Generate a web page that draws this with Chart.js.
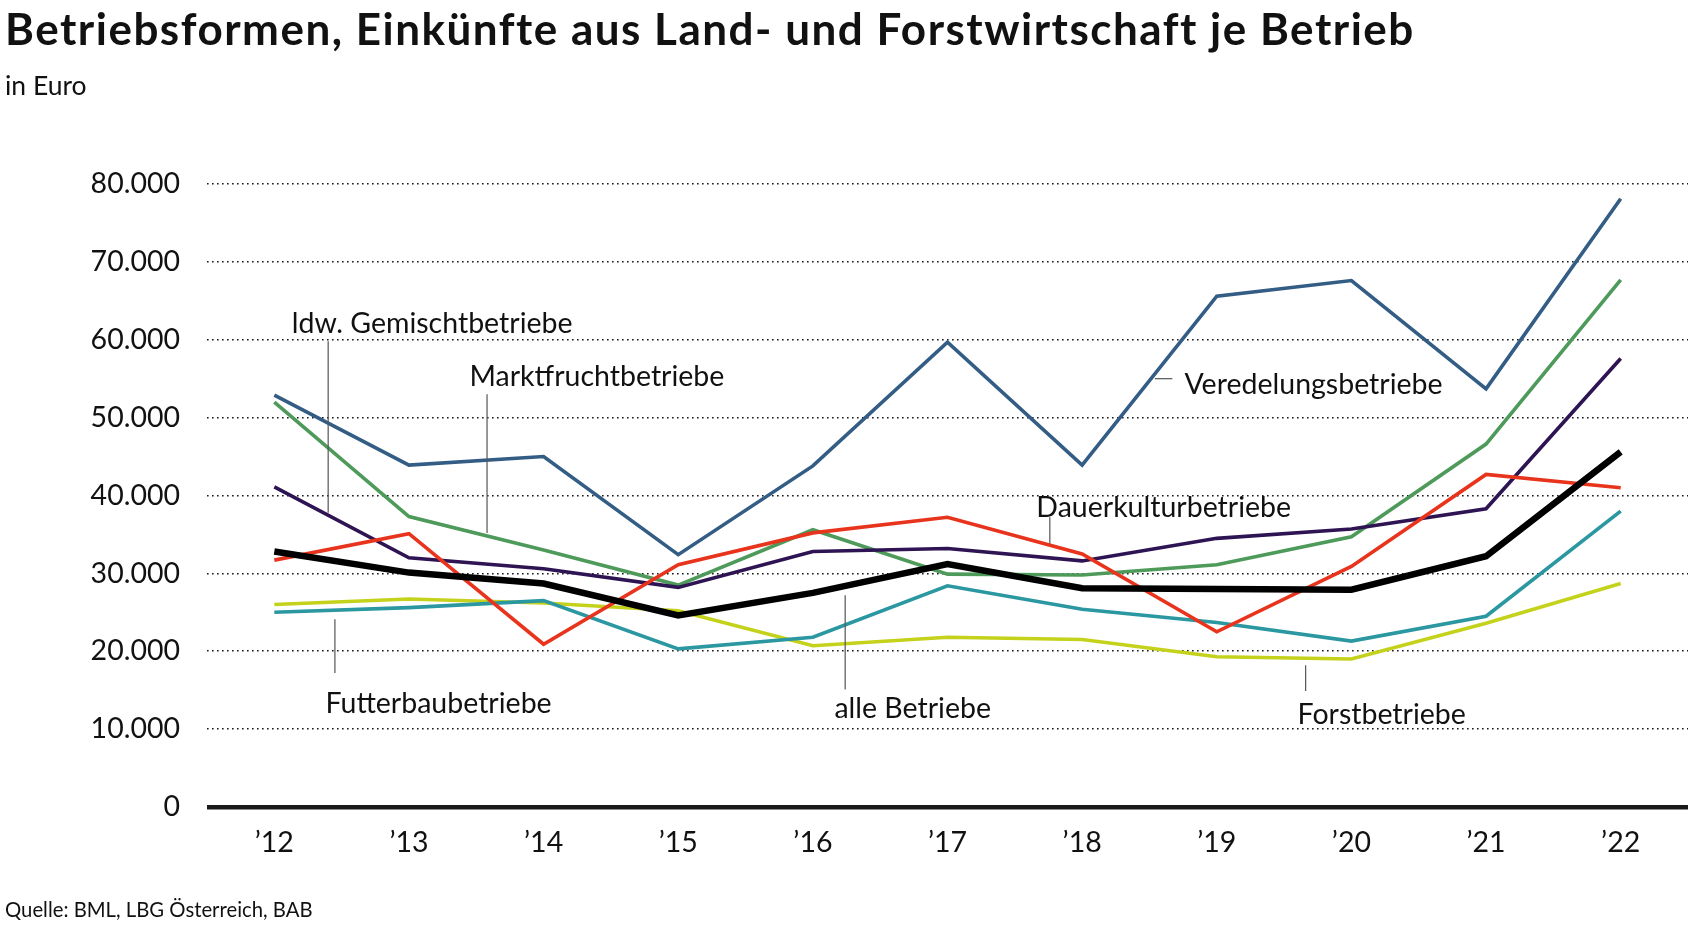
<!DOCTYPE html>
<html lang="de">
<head>
<meta charset="utf-8">
<title>Betriebsformen, Einkünfte aus Land- und Forstwirtschaft je Betrieb</title>
<script src="https://cdn.jsdelivr.net/npm/chart.js@4.4.1/dist/chart.umd.min.js"></script>
<style>
    html, body {
        margin: 0;
        padding: 0;
        background: #ffffff;
        width: 1688px;
        height: 925px;
        overflow: hidden;
        font-family: Lato, "Open Sans", sans-serif;
        color: #111111;
    }
    #title {
        position: absolute;
        left: 5px;
        top: 2px;
        font-size: 44px;
        font-weight: 700;
        letter-spacing: 1.5px;
        line-height: 52px;
        white-space: nowrap;
    }
    #subtitle {
        position: absolute;
        left: 5px;
        top: 69px;
        font-size: 26.5px;
        line-height: 32px;
    }
    #source {
        position: absolute;
        left: 5px;
        top: 897px;
        font-size: 20.3px;
        line-height: 24px;
    }
    #chartBox {
        position: absolute;
        left: 0;
        top: 0;
        width: 1688px;
        height: 925px;
    }
</style>
</head>
<body>
<div id="chartBox"><canvas id="einkuenfteChart"></canvas></div>
<div id="title">Betriebsformen, Einkünfte aus Land- und Forstwirtschaft je Betrieb</div>
<div id="subtitle">in Euro</div>
<div id="source">Quelle: BML, LBG Österreich, BAB</div>

<script>
// Chart data (Euro je Betrieb)
const years = ['’12', '’13', '’14', '’15', '’16', '’17', '’18', '’19', '’20', '’21', '’22'];
const yTickLabels = ['0', '10.000', '20.000', '30.000', '40.000', '50.000', '60.000', '70.000', '80.000'];

const alleBetriebe = [32800, 30100, 28700, 24600, 27500, 31200, 28100, 28000, 27900, 32200, 45600];
const veredelungsbetriebe = [52900, 43900, 45000, 32400, 43800, 59700, 43900, 65600, 67600, 53700, 78100];
const marktfruchtbetriebe = [52000, 37300, 33000, 28500, 35600, 29900, 29800, 31100, 34700, 46600, 67700];
const gemischtbetriebe = [41100, 32000, 30600, 28200, 32800, 33200, 31600, 34500, 35700, 38300, 57600];
const dauerkulturbetriebe = [31700, 35100, 20900, 31100, 35200, 37200, 32500, 22500, 30900, 42700, 41000];
const futterbaubetriebe = [25000, 25600, 26500, 20300, 21800, 28400, 25400, 23700, 21300, 24500, 38000];
const forstbetriebe = [26000, 26700, 26200, 25200, 20700, 21800, 21500, 19300, 19000, 23600, 28700];

// Direct labels: text anchor and leader line in data space (x = category index, y = Euro)
const seriesLabels = [
    { text: 'ldw. Gemischtbetriebe', x: 0.13, y: 62100, line: [[0.40, 59800], [0.40, 37800]] },
    { text: 'Marktfruchtbetriebe', x: 1.45, y: 55200, line: [[1.58, 53000], [1.58, 35200]] },
    { text: 'Veredelungsbetriebe', x: 6.76, y: 54200, line: [[6.54, 55000], [6.67, 55000]] },
    { text: 'Dauerkulturbetriebe', x: 5.66, y: 38400, line: [[5.76, 37200], [5.76, 33800]] },
    { text: 'Futterbaubetriebe', x: 0.38, y: 13300, line: [[0.45, 24100], [0.45, 17200]] },
    { text: 'alle Betriebe', x: 4.16, y: 12600, line: [[4.24, 27200], [4.24, 15100]] },
    { text: 'Forstbetriebe', x: 7.60, y: 11800, line: [[7.66, 18200], [7.66, 14900]] }
];

const FONT = 'Lato, "Open Sans", sans-serif';

// Line dataset helper
function makeSeries(label, data, color, width) {
    return {
        label: label,
        data: data,
        borderColor: color,
        backgroundColor: color,
        borderWidth: width,
        pointRadius: 0,
        pointHoverRadius: 0,
        tension: 0,
        fill: false,
        borderJoinStyle: 'miter',
        borderCapStyle: 'butt'
    };
}

// Plugin: draws the direct series labels with their thin leader lines
const seriesLabelPlugin = {
    id: 'seriesLabels',
    afterDatasetsDraw(chart) {
        const ctx = chart.ctx;
        const xScale = chart.scales.x;
        const yScale = chart.scales.y;

        ctx.save();
        ctx.strokeStyle = '#555555';
        ctx.lineWidth = 1.2;
        seriesLabels.forEach(item => {
            ctx.beginPath();
            ctx.moveTo(xScale.getPixelForValue(item.line[0][0]), yScale.getPixelForValue(item.line[0][1]));
            ctx.lineTo(xScale.getPixelForValue(item.line[1][0]), yScale.getPixelForValue(item.line[1][1]));
            ctx.stroke();
        });

        ctx.fillStyle = '#111111';
        ctx.font = '28.5px ' + FONT;
        ctx.textAlign = 'left';
        ctx.textBaseline = 'middle';
        seriesLabels.forEach(item => {
            ctx.fillText(item.text, xScale.getPixelForValue(item.x), yScale.getPixelForValue(item.y));
        });
        ctx.restore();
    }
};

function renderChart() {
    const ctx = document.getElementById('einkuenfteChart');

    new Chart(ctx, {
        type: 'line',
        data: {
            labels: years,
            // first dataset is drawn on top
            datasets: [
                makeSeries('alle Betriebe', alleBetriebe, '#000000', 6.5),
                makeSeries('Veredelungsbetriebe', veredelungsbetriebe, '#335d84', 3.6),
                makeSeries('Dauerkulturbetriebe', dauerkulturbetriebe, '#e8341c', 3.6),
                makeSeries('Futterbaubetriebe', futterbaubetriebe, '#2a97a1', 3.6),
                makeSeries('ldw. Gemischtbetriebe', gemischtbetriebe, '#2e1453', 3.6),
                makeSeries('Marktfruchtbetriebe', marktfruchtbetriebe, '#4e9a5a', 3.6),
                makeSeries('Forstbetriebe', forstbetriebe, '#c4d21c', 3.6)
            ]
        },
        options: {
            responsive: true,
            maintainAspectRatio: false,
            animation: false,
            layout: {
                padding: { top: 184, right: 0, bottom: 58, left: 0 }
            },
            plugins: {
                legend: { display: false },
                title: { display: false },
                tooltip: { enabled: false }
            },
            scales: {
                x: {
                    offset: true,
                    grid: { display: false },
                    border: { display: false },
                    ticks: {
                        color: '#111111',
                        font: { family: FONT, size: 28.5 },
                        padding: 11,
                        maxRotation: 0
                    },
                    afterFit(scale) {
                        scale.height = 60;
                    }
                },
                y: {
                    min: 0,
                    max: 80000,
                    grid: {
                        drawTicks: false,
                        color: '#1a1a1a',
                        lineWidth: c => (c.tick && c.tick.value === 0 ? 4.5 : 1.6)
                    },
                    border: {
                        display: false,
                        dash: c => (c.tick && c.tick.value === 0 ? [] : [1.6, 3.4])
                    },
                    ticks: {
                        stepSize: 10000,
                        color: '#111111',
                        font: { family: FONT, size: 28.5 },
                        padding: 27,
                        callback: (value, index) => yTickLabels[index]
                    },
                    afterFit(scale) {
                        scale.width = 207;
                    }
                }
            }
        },
        plugins: [seriesLabelPlugin]
    });
}

renderChart();
</script>
</body>
</html>
